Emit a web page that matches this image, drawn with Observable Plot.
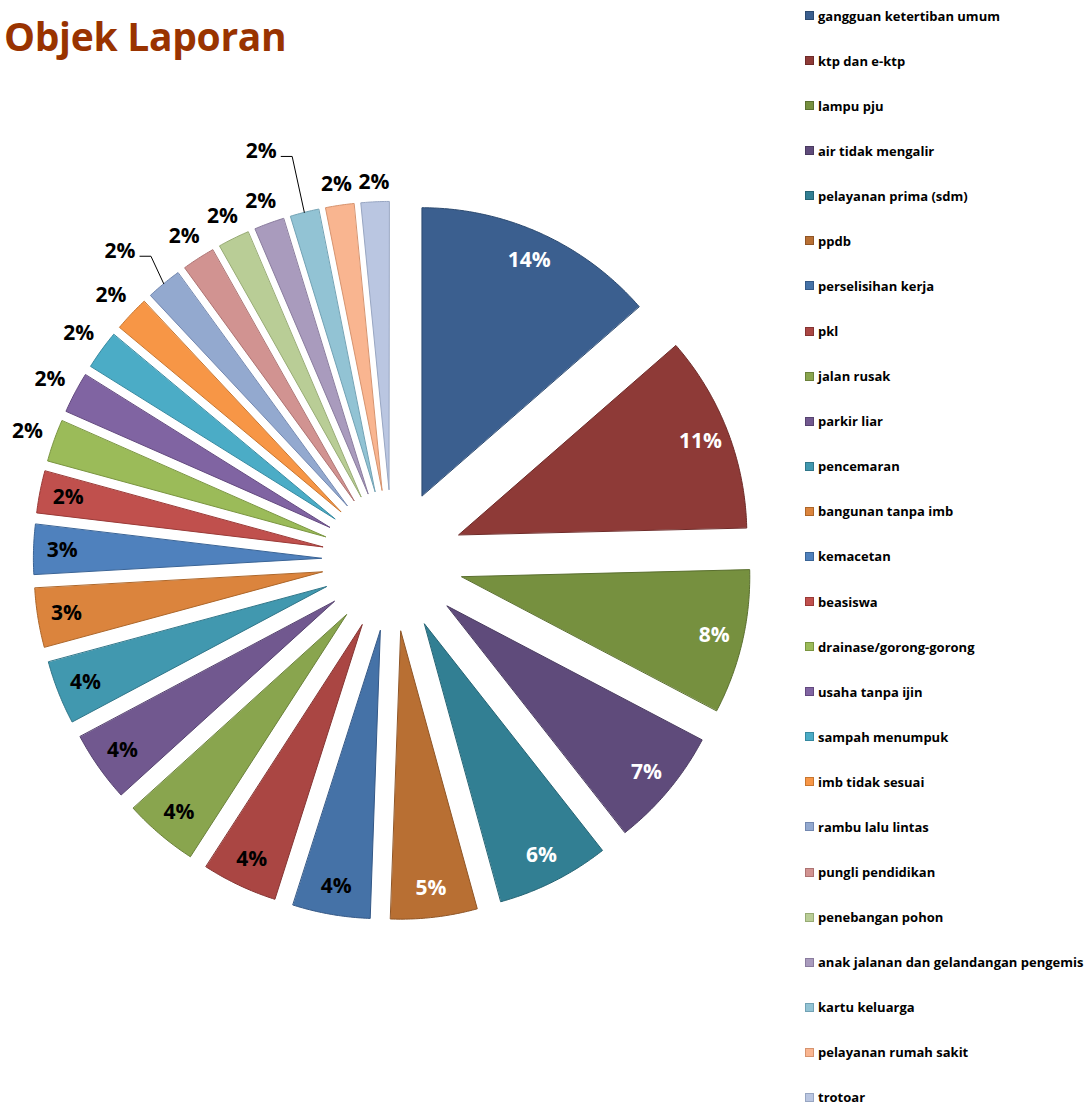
<!DOCTYPE html>
<html><head><meta charset="utf-8">
<script src="https://cdn.jsdelivr.net/npm/d3@7"></script>
<script src="https://cdn.jsdelivr.net/npm/@observablehq/plot@0.6"></script>
<style>
body{margin:0;background:#fff;font-family:"Open Sans",sans-serif;}
#wrap{position:relative;width:1089px;height:1105px;overflow:hidden;background:#fff;}
#chart{position:absolute;left:0;top:0;}
#title{position:absolute;left:4px;top:16px;font-family:"Open Sans";font-weight:bold;font-size:39px;line-height:39px;color:#993300;white-space:nowrap;letter-spacing:-0.3px;}
#legend{position:absolute;left:805px;top:0;width:284px;height:1105px;}
.item{position:absolute;left:0;display:flex;align-items:center;height:20px;white-space:nowrap;font-family:"Open Sans";font-weight:bold;font-size:13px;color:#000;}
.sw{width:7px;height:7px;border:1px solid;margin-right:4px;flex:none;}
</style></head><body>
<div id="wrap"><div id="chart"></div><div id="title">Objek Laporan</div><div id="legend"></div></div>
<script>
const categories = ["gangguan ketertiban umum","ktp dan e-ktp","lampu pju","air tidak mengalir","pelayanan prima (sdm)","ppdb","perselisihan kerja","pkl","jalan rusak","parkir liar","pencemaran","bangunan tanpa imb","kemacetan","beasiswa","drainase/gorong-gorong","usaha tanpa ijin","sampah menumpuk","imb tidak sesuai","rambu lalu lintas","pungli pendidikan","penebangan pohon","anak jalanan dan gelandangan pengemis","kartu keluarga","pelayanan rumah sakit","trotoar"];
const values = [13.56,11.0,8.07,6.69,6.31,4.83,4.33,4.21,4.14,3.94,3.56,3.31,2.78,2.35,2.35,2.28,2.17,1.97,1.96,1.83,1.75,1.67,1.60,1.58,1.56];
const fills = ["#3B5F8F","#8E3A37","#76903F","#5F4B7B","#327F93","#B86F33","#4572A7","#AA4643","#89A54E","#71588F","#4198AF","#DB843D","#4F81BD","#C0504D","#9BBB59","#8064A2","#4BACC6","#F79646","#93A9CF","#D19391","#B9CD96","#A99BBD","#92C3D4","#F9B590","#BAC6E1"];
const strokes = ["#2C4A70","#6E2B29","#5A6F2F","#493A5F","#246373","#8F5526","#345886","#853432","#6A803A","#56436F","#307689","#AD6629","#3A6496","#9A3A37","#7A9540","#63497F","#3589A0","#C8762F","#7388B0","#AD7372","#97AB74","#8A7C9E","#72A2B4","#D6936E","#98A6C2"];

const W = 1089, H = 1105, CX = 392, CY = 560, R = 288, EXPLODE = 0.247;
const INSIDE_COUNT = 14, WHITE_COUNT = 6;
const nudges = {"rambu lalu lintas": {dr: 26, da: -2.2}, "kartu keluarga": {dr: 48, da: -4.3}};

const total = d3.sum(values);
const arcs = d3.pie().sort(null).value(d => d)(values);
const slices = arcs.map((a, i) => {
  const mid = (a.startAngle + a.endAngle) / 2;
  return {i, name: categories[i], a0: a.startAngle, a1: a.endAngle, mid,
    ox: EXPLODE * Math.sin(mid), oy: -EXPLODE * Math.cos(mid),
    pct: Math.round(values[i] / total * 100)};
});

const poly = slices.flatMap(s => {
  const n = Math.max(4, Math.ceil((s.a1 - s.a0) / (Math.PI / 360)));
  const pts = [{name: s.name, x: s.ox, y: s.oy, fill: fills[s.i], stroke: strokes[s.i]}];
  for (let k = 0; k <= n; k++) {
    const t = s.a0 + (s.a1 - s.a0) * k / n;
    pts.push({name: s.name, x: s.ox + Math.sin(t), y: s.oy - Math.cos(t), fill: fills[s.i], stroke: strokes[s.i]});
  }
  return pts;
});

const labels = [], leaders = [];
slices.forEach(s => {
  let ux = Math.sin(s.mid), uy = -Math.cos(s.mid), dist;
  if (s.i < INSIDE_COUNT) {
    dist = 0.9 * R;
  } else {
    dist = R + 10 + Math.abs(ux) * 16 + Math.abs(uy) * 9;
  }
  const nd = nudges[s.name];
  let ang = s.mid;
  if (nd) { dist += nd.dr; ang += nd.da * Math.PI / 180; }
  const lx = s.ox + dist / R * Math.sin(ang), ly = s.oy - dist / R * Math.cos(ang);
  labels.push({x: lx, y: ly, text: s.pct + "%", color: s.i < WHITE_COUNT ? "white" : "black"});
  if (nd) {
    const sx = lx + 20 / R, sy = ly + 5 / R;
    leaders.push({name: s.name, x: sx, y: sy});
    leaders.push({name: s.name, x: sx + 11 / R, y: sy});
    leaders.push({name: s.name, x: s.ox + ux, y: s.oy + uy});
  }
});

const chart = Plot.plot({
  width: W, height: H, margin: 0,
  style: {background: "transparent", overflow: "visible"},
  x: {domain: [-CX / R, (W - CX) / R], range: [0, W], axis: null},
  y: {domain: [-CY / R, (H - CY) / R], range: [0, H], axis: null},
  color: {type: "identity"},
  marks: [
    Plot.line(poly, {x: "x", y: "y", z: "name", fill: "fill", stroke: "stroke", strokeWidth: 1, curve: "linear-closed"}),
    Plot.line(leaders, {x: "x", y: "y", z: "name", stroke: "black", strokeWidth: 1}),
    Plot.text(labels, {x: "x", y: "y", text: "text", fill: "color", fontSize: 21, fontWeight: "bold", fontFamily: "Open Sans"})
  ]
});
document.getElementById("chart").appendChild(chart);

const leg = document.getElementById("legend");
categories.forEach((c, i) => {
  const it = document.createElement("div");
  it.className = "item";
  it.style.top = (15.5 + i * 45.08 - 10) + "px";
  const sw = document.createElement("span");
  sw.className = "sw";
  sw.style.background = fills[i];
  sw.style.borderColor = strokes[i];
  it.appendChild(sw);
  const tx = document.createElement("span");
  tx.textContent = c;
  it.appendChild(tx);
  leg.appendChild(it);
});
</script>
</body></html>
